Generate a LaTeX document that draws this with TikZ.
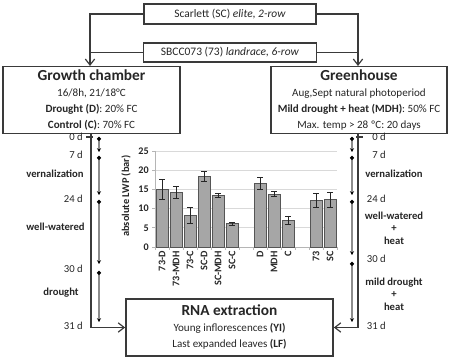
\documentclass[tikz,border=0pt]{standalone}
\usepackage{fontspec}
\setmainfont{Carlito}
\usetikzlibrary{arrows.meta}
\definecolor{ink}{HTML}{262626}
\definecolor{edge}{HTML}{3A3A3A}
\definecolor{barfill}{HTML}{A6A6A6}
\definecolor{barline}{HTML}{555555}
\definecolor{gridc}{HTML}{D9D9D9}
\definecolor{tlc}{HTML}{8C8C8C}
\newcommand\gtitle{\fontsize{11.5}{13}\selectfont\bfseries}
\newcommand\gbody{\fontsize{8.3}{9.6}\selectfont}
\begin{document}
\begin{tikzpicture}[x=0.75pt,y=-0.75pt,
  every node/.style={text=ink, inner sep=0pt},
  box/.style={draw=edge, line width=1.3pt, align=center},
  smallbox/.style={draw=edge, line width=1.1pt, font=\fontsize{8.6}{10}\selectfont},
  conn/.style={draw=edge, line width=0.9pt},
  arr/.style={conn, -{Straight Barb[length=4.5pt,width=7pt]}},
  dlab/.style={font=\fontsize{8}{10}\selectfont},
  plab/.style={font=\fontsize{8}{9.4}\selectfont\bfseries, align=center},
  seg/.style={draw=tlc, line width=1pt, {Circle[black,length=2.8pt]}-{Stealth[black,length=2.8pt,width=3pt]}},
  bar/.style={draw=barline, fill=barfill, line width=0.6pt},
  err/.style={draw=ink, line width=0.5pt},
  gridl/.style={draw=gridc, line width=0.6pt},
  axl/.style={draw=gridc!60!gray, line width=0.6pt},
  tick/.style={font=\fontsize{7.6}{9}\selectfont\bfseries},
  xl/.style={font=\fontsize{7.6}{9}\selectfont\bfseries, rotate=90, anchor=east}
]
\useasboundingbox (0,0) rectangle (451,359);

% top boxes
\node[smallbox, minimum width=129pt, minimum height=15pt] (sc) at (230,14) {Scarlett (SC) \textit{elite, 2-row}};
\node[smallbox, minimum width=129.75pt, minimum height=14.25pt] (sb) at (230,52.5) {SBCC073 (73) \textit{landrace, 6-row}};

% main boxes
\node[box, minimum width=132.75pt, minimum height=50.25pt] (gc) at (91.5,100)
  {{\gtitle Growth chamber}\\[-0.5pt]
   {\gbody 16/8h, 21/18°C}\\
   {\gbody \textbf{Drought (D)}: 20\% FC}\\
   {\gbody \textbf{Control (C)}: 70\% FC}};
\node[box, minimum width=132pt, minimum height=50.25pt] (gh) at (359,100)
  {{\gtitle Greenhouse}\\[-0.5pt]
   {\gbody Aug,Sept natural photoperiod}\\
   {\gbody \textbf{Mild drought + heat (MDH)}: 50\% FC}\\
   {\gbody Max. temp > 28 ºC: 20 days}};
\node[box, minimum width=155.25pt, minimum height=42.75pt] (rna) at (229.5,327.5)
  {{\gtitle RNA extraction}\\[0pt]
   {\gbody Young inflorescences \textbf{(YI)}}\\
   {\gbody Last expanded leaves \textbf{(LF)}}};

% connectors from top boxes
\coordinate (gcin) at (90,66);
\coordinate (ghin) at (358,66);
\draw[arr] (sc.west) -| (gcin);
\draw[conn] (sb.west) -- (sb.west -| gcin);
\draw[arr] (sc.east) -| (ghin);
\draw[conn] (sb.east) -- (sb.east -| ghin);

% connectors to RNA box
\coordinate (gcout) at (91,133);
\coordinate (ghout) at (358,133);
\draw[arr] (gcout) |- (rna.west);
\draw[arr] (ghout) |- (rna.east);
\coordinate (t0l) at (91,137);
\coordinate (t0r) at (358,137);
\draw[conn] ([xshift=-3.5pt]t0l) -- ([xshift=1.5pt]t0l);
\draw[conn] ([xshift=-1.5pt]t0r) -- ([xshift=3.5pt]t0r);

% timelines
\foreach \a/\b [count=\k] in {137/152,156/195,200/264,271/322}
  \draw[seg] (99,\a) coordinate (la\k) -- (99,\b) coordinate (lb\k);
\foreach \a/\b [count=\k] in {137/152,156/195,200/255,262/322}
  \draw[seg] (352,\a) coordinate (ra\k) -- (352,\b) coordinate (rb\k);

% left timeline labels
\node[dlab, anchor=east] (l0) at (83,137) {0 d};
\node[dlab, anchor=east] (l7) at (83,155) {7 d};
\node[plab] (lv) at (55,174) {vernalization};
\node[dlab, anchor=east] (l24) at (83,199) {24 d};
\node[plab] (lw) at (55.5,227) {well-watered};
\node[dlab, anchor=east] (l30) at (83,269) {30 d};
\node[plab] (ld) at (61,293) {drought};
\node[dlab, anchor=east] (l31) at (83,326) {31 d};

% right timeline labels
\node[dlab, anchor=east] (r0) at (386,137) {0 d};
\node[dlab, anchor=east] (r7) at (386,155) {7 d};
\node[plab] (rv) at (394,174) {vernalization};
\node[dlab, anchor=east] (r24) at (386,199) {24 d};
\node[plab] (rw) at (394,228) {well-watered\\+\\heat};
\node[dlab, anchor=east] (r30) at (386,259) {30 d};
\node[plab] (rd) at (394,294) {mild drought\\+\\heat};
\node[dlab, anchor=east] (r31) at (386,326) {31 d};

% chart
\foreach \g in {5,10,...,25}
  \draw[gridl] (155,{247-3.84*\g}) -- (337,{247-3.84*\g});
\draw[axl] (155,{247-3.84*25}) -- (155,247);
\draw[axl] (155,247) -- (337,247);
\foreach \g in {0,5,...,25} {
  \draw[axl] (152,{247-3.84*\g}) -- (155,{247-3.84*\g});
  \node[tick, anchor=east] (yt\g) at (149,{247-3.84*\g}) {\g};
}
\foreach \k in {0,...,13}
  \draw[axl] ({155+14*\k},247) -- ({155+14*\k},250);
\node[font=\fontsize{7.8}{9}\selectfont\bfseries, rotate=90] (ytitle) at (126,196) {absolute LWP (bar)};

\foreach \i/\v/\e/\l in {0/15/2.5/73-D, 1/14.3/1.5/73-MDH, 2/8.2/2/73-C, 3/18.3/1.3/SC-D, 4/13.5/0.6/SC-MDH, 5/6.1/0.4/SC-C, 7/16.6/1.5/D, 8/13.8/0.7/MDH, 9/7/1.1/C, 11/12.1/1.8/73, 12/12.3/2/SC} {
  \pgfmathsetmacro{\c}{162+14*\i}
  \draw[bar] ({\c-6},247) rectangle ({\c+6},{247-3.84*\v});
  \draw[err] (\c,{247-3.84*(\v+\e)}) -- (\c,{247-3.84*(\v-\e)});
  \draw[err] ({\c-3},{247-3.84*(\v+\e)}) -- ({\c+3},{247-3.84*(\v+\e)});
  \draw[err] ({\c-3},{247-3.84*(\v-\e)}) -- ({\c+3},{247-3.84*(\v-\e)});
  \node[xl] (xl\i) at (\c,251) {\l};
}
\end{tikzpicture}
\end{document}
